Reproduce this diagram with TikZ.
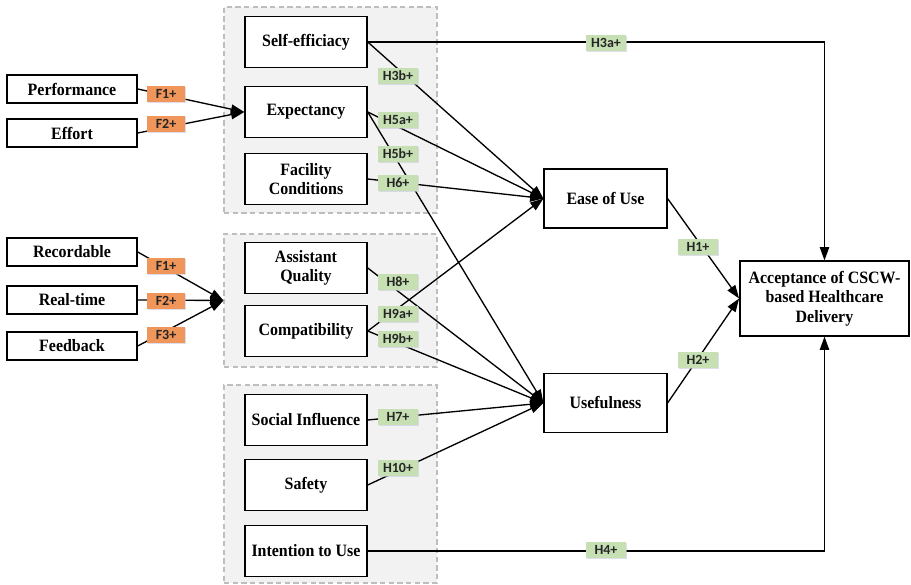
\documentclass[tikz,border=0pt]{standalone}
\usepackage{fontspec}
\setmainfont{Liberation Serif}[FakeStretch=0.92]
\newfontfamily\lblfont{Carlito}
\usetikzlibrary{arrows.meta,shadows}
\definecolor{hgreen}{RGB}{198,224,180}
\definecolor{forange}{RGB}{240,150,90}
\definecolor{gfill}{RGB}{242,242,242}
\definecolor{gline}{RGB}{190,190,190}
\begin{document}
\begin{tikzpicture}[x=0.75pt,y=-0.75pt,
  box/.style={draw=black, line width=1.1pt, fill=white, align=center,
    font=\bfseries\fontsize{13}{14.5}\selectfont, inner sep=2pt},
  inbox/.style={box, minimum width=91.5pt, minimum height=38.25pt},
  lbox/.style={box, minimum width=97.5pt, minimum height=21pt},
  obox/.style={box, minimum width=92pt, minimum height=44pt},
  group/.style={draw=gline, dash pattern=on 4pt off 2.5pt, fill=gfill, line width=0.8pt, minimum width=159.75pt},
  tagbase/.style={font=\lblfont\bfseries\fontsize{10.5}{11}\selectfont, text=black!85,
    minimum width=30pt, minimum height=12.5pt, inner sep=0.5pt,
    drop shadow={shadow xshift=0.7pt, shadow yshift=-0.7pt, fill=blue!25!gray!35, opacity=0.6}},
  hyp/.style={tagbase, fill=hgreen},
  fac/.style={tagbase, fill=forange, minimum width=28pt},
  conn/.style={line width=1pt, -{Triangle[length=10pt,width=7pt]}},
]
\useasboundingbox (0,0) rectangle (911,585);

% groups
\node[group, minimum height=154.5pt] (g1) at (330.5,110) {};
\node[group, minimum height=99.75pt] (g2) at (330.5,300.5) {};
\node[group, minimum height=148.5pt] (g3) at (330.5,484) {};

% left boxes
\node[lbox] (perf) at (72,89) {Performance};
\node[lbox] (eff) at (72,133) {Effort};
\node[lbox] (rec) at (72,252) {Recordable};
\node[lbox] (rt) at (72,300) {Real-time};
\node[lbox] (fb) at (72,346) {Feedback};

% inner boxes
\node[inbox] (se) at (306,42) {Self-efficiacy};
\node[inbox] (ex) at (306,112) {Expectancy};
\node[inbox] (fc) at (306,179) {Facility\\Conditions};
\node[inbox] (aq) at (306,268) {Assistant\\Quality};
\node[inbox] (cp) at (306,331) {Compatibility};
\node[inbox] (si) at (306,420) {Social Influence};
\node[inbox] (sa) at (306,485) {Safety};
\node[inbox] (iu) at (306,551) {Intention to Use};

% outcome boxes
\node[obox] (ease) at (605.5,198.5) {Ease of Use};
\node[obox] (use) at (605.5,403) {Usefulness};
\node[box, minimum width=127pt, minimum height=56pt] (acc) at (824.5,298.5)
  {Acceptance of CSCW-\\based Healthcare\\Delivery};

% connectors
\draw[conn] (perf.east) -- (ex.west);
\draw[conn] (eff.east) -- (ex.west);
\draw[conn] (rec.east) -- (g2.west);
\draw[conn] (rt.east) -- (g2.west);
\draw[conn] (fb.east) -- (g2.west);

\draw[conn] (se.east) -- (se.east -| acc.north) -- (acc.north);
\draw[conn] (iu.east) -- (iu.east -| acc.south) -- (acc.south);

\draw[conn] (se.east) -- (ease.west);
\draw[conn] (ex.east) -- (ease.west);
\draw[conn] (ex.east) -- (use.west);
\draw[conn] (fc.east) -- (ease.west);
\draw[conn] (aq.east) -- (use.west);
\draw[conn] (cp.east) -- (ease.west);
\draw[conn] (cp.east) -- (use.west);
\draw[conn] (si.east) -- (use.west);
\draw[conn] (sa.east) -- (use.west);

\draw[conn] (ease.east) -- (acc.west);
\draw[conn] (use.east) -- (acc.west);

% labels
\node[fac] (lf1a) at (166,94) {F1+};
\node[fac] (lf2a) at (166,124) {F2+};
\node[fac] (lf1b) at (166,266) {F1+};
\node[fac] (lf2b) at (166,301) {F2+};
\node[fac] (lf3b) at (166,335) {F3+};

\node[hyp] (lh3a) at (606,43) {H3a+};
\node[hyp] (lh4) at (606,550) {H4+};
\node[hyp] (lh3b) at (398,76) {H3b+};
\node[hyp] (lh5a) at (398,120) {H5a+};
\node[hyp] (lh5b) at (398,154) {H5b+};
\node[hyp] (lh6) at (398,183) {H6+};
\node[hyp] (lh8) at (398,282) {H8+};
\node[hyp] (lh9a) at (398,314) {H9a+};
\node[hyp] (lh9b) at (398,339) {H9b+};
\node[hyp] (lh7) at (398,417) {H7+};
\node[hyp] (lh10) at (398,468) {H10+};
\node[hyp] (lh1) at (698,247) {H1+};
\node[hyp] (lh2) at (698,360) {H2+};
\end{tikzpicture}
\end{document}
